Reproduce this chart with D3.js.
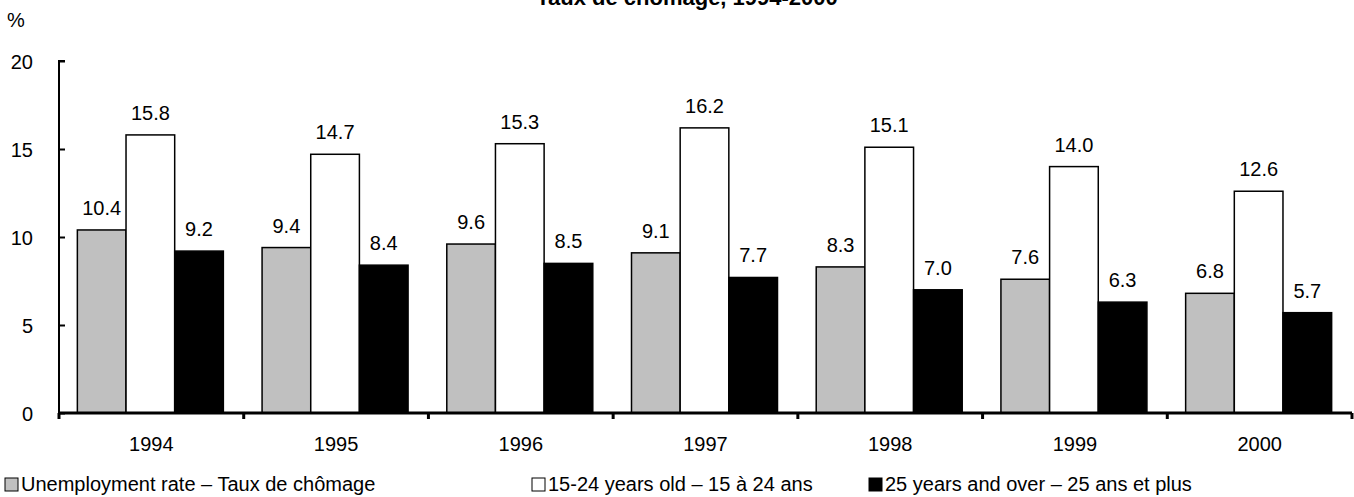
<!DOCTYPE html>
<html>
<head>
<meta charset="utf-8">
<script src="https://cdn.jsdelivr.net/npm/d3@7"></script>
<style>
  body { margin: 0; background: #fff; }
  text { font-family: "Liberation Sans", Arial, sans-serif; fill: #000; }
</style>
</head>
<body>
<div id="chart"></div>
<script>
var w = 1354, h = 497;

// data
var years = ['1994', '1995', '1996', '1997', '1998', '1999', '2000'];
var seriesNames = [
  'Unemployment rate \u2013 Taux de ch\u00f4mage',
  '15-24 years old \u2013 15 \u00e0 24 ans',
  '25 years and over \u2013 25 ans et plus'
];
var unemployment = [10.4, 9.4, 9.6, 9.1, 8.3, 7.6, 6.8];
var youth = [15.8, 14.7, 15.3, 16.2, 15.1, 14.0, 12.6];
var adults = [9.2, 8.4, 8.5, 7.7, 7.0, 6.3, 5.7];
var yTicks = [0, 5, 10, 15, 20];
var colors = ['#c0c0c0', '#ffffff', '#000000'];

var allSeries = [unemployment, youth, adults];

var margin = { left: 59, right: 2, top: 61, bottom: 84 };

var svg = d3.select('#chart').append('svg')
  .attr('width', w)
  .attr('height', h);

// band per year (tick to tick)
var xTick = d3.scaleBand().domain(years).range([margin.left, 1352]);

var x1 = d3.scaleBand()
  .domain([0, 1, 2])
  .range([0, 146]);

var y = d3.scaleLinear().domain([0, 20]).range([413, 61]);

// title (cut at top, like the source)
svg.append('text')
  .attr('x', 687)
  .attr('y', 5)
  .attr('text-anchor', 'middle')
  .style('font-size', '22px')
  .style('font-weight', 'bold')
  .text('Taux de ch\u00f4mage, 1994-2000');

svg.append('text')
  .attr('x', 7)
  .attr('y', 27)
  .style('font-size', '20px')
  .text('%');

// bars
var groups = svg.selectAll('g.year')
  .data(years)
  .enter()
  .append('g')
  .attr('class', 'year')
  .attr('transform', function (d) {
    return 'translate(' + (xTick(d) + (xTick.bandwidth() - 146) / 2 - 1) + ',0)';
  });

groups.each(function (yr, i) {
  var g = d3.select(this);
  allSeries.forEach(function (s, k) {
    g.append('rect')
      .attr('x', x1(k))
      .attr('y', y(s[i]))
      .attr('width', x1.bandwidth())
      .attr('height', y(0) - y(s[i]))
      .attr('fill', colors[k])
      .attr('stroke', '#000')
      .attr('stroke-width', 1.5);
    g.append('text')
      .attr('x', x1(k) + x1.bandwidth() / 2)
      .attr('y', y(s[i]) - 15)
      .attr('text-anchor', 'middle')
      .style('font-size', '20px')
      .text(s[i].toFixed(1));
  });
});

// y axis
var yAxis = d3.axisLeft(y).tickValues(yTicks).tickSize(-6).tickPadding(26);
var gy = svg.append('g')
  .attr('transform', 'translate(' + margin.left + ',0)')
  .call(yAxis);
gy.select('.domain').attr('stroke-width', 2).attr('d', 'M6,61H0V413');
gy.selectAll('.tick line').attr('stroke-width', 2);
gy.selectAll('.tick text').style('font-size', '20px').attr('dy', '0.35em');

// x axis
var gx = svg.append('g');
gx.append('line')
  .attr('x1', margin.left).attr('x2', 1352)
  .attr('y1', 413).attr('y2', 413)
  .attr('stroke', '#000').attr('stroke-width', 3);
var tickPos = years.map(function (d) { return xTick(d); }).concat([1352]);
gx.selectAll('line.tk')
  .data(tickPos)
  .enter()
  .append('line')
  .attr('class', 'tk')
  .attr('x1', function (d) { return d; })
  .attr('x2', function (d) { return d; })
  .attr('y1', 413).attr('y2', 419)
  .attr('stroke', '#000').attr('stroke-width', 3);
gx.selectAll('text')
  .data(years)
  .enter()
  .append('text')
  .attr('x', function (d) { return xTick(d) + xTick.bandwidth() / 2; })
  .attr('y', 451)
  .attr('text-anchor', 'middle')
  .style('font-size', '20px')
  .text(function (d) { return d; });

// legend
var legendX = [5, 532, 869];
var leg = svg.selectAll('g.leg')
  .data(seriesNames)
  .enter()
  .append('g')
  .attr('class', 'leg')
  .attr('transform', function (d, i) { return 'translate(' + legendX[i] + ',478)'; });
leg.append('rect')
  .attr('width', 13).attr('height', 13)
  .attr('fill', function (d, i) { return colors[i]; })
  .attr('stroke', '#000').attr('stroke-width', 1);
leg.append('text')
  .attr('x', 16)
  .attr('y', 13)
  .style('font-size', '20px')
  .text(function (d) { return d; });
</script>
</body>
</html>
